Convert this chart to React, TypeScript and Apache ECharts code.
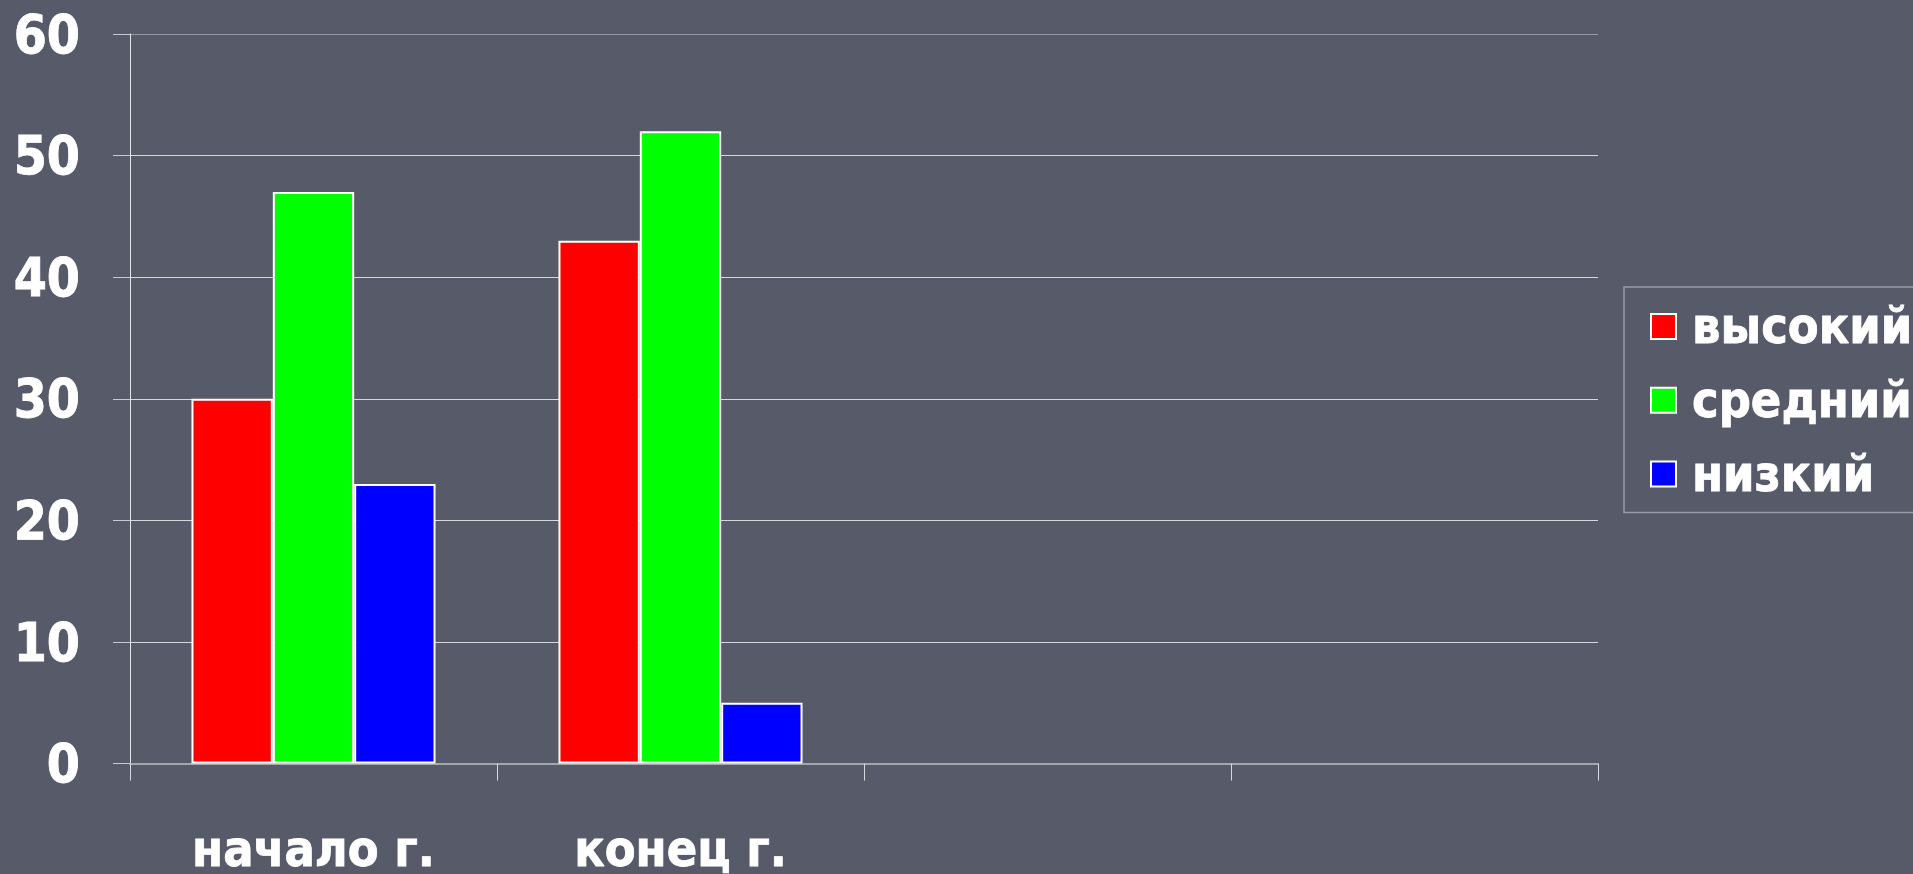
import React, { useEffect, useRef } from "react";
import * as echarts from "echarts";

const categories = ["начало г.", "конец г.", "", ""];
const seriesNames = ["высокий", "средний", "низкий"];
const highValues = [30, 43];
const midValues = [47, 52];
const lowValues = [23, 5];
const yTicks = { min: 0, max: 60, interval: 10 };
const colors = ["#ff0000", "#00ff00", "#0000ff"];

const FONT = "'DejaVu Sans Condensed', 'DejaVu Sans', sans-serif";
const BOLDER = { textBorderColor: "#ffffff", textBorderWidth: 0.8 };

export default function App() {
  const ref = useRef<HTMLDivElement>(null);
  useEffect(() => {
    if (!ref.current) return;
    const chart = echarts.init(ref.current, undefined, { renderer: "svg" });
    const data = [highValues, midValues, lowValues];
    chart.setOption({
      animation: false,
      backgroundColor: "#575a69",
      grid: { left: 130, right: 315, top: 34, bottom: 109 },
      legend: {
        orient: "vertical",
        left: 1624,
        top: 287,
        padding: [14, 30, 13, 26],
        itemGap: 23,
        itemWidth: 25,
        itemHeight: 25,
        borderColor: "#9a9ca6",
        borderWidth: 1.5,
        icon: "rect",
        textStyle: {
          color: "#ffffff",
          fontFamily: FONT,
          fontWeight: "bold",
          fontSize: 50,
          lineHeight: 50,
          padding: [0, 0, 0, 11],
          ...BOLDER,
        },
        data: seriesNames,
      },
      xAxis: {
        type: "category",
        data: categories,
        boundaryGap: true,
        axisLine: { show: true, lineStyle: { color: "#a4a6b0", width: 2 } },
        axisTick: {
          show: true,
          inside: false,
          length: 17,
          alignWithLabel: false,
          lineStyle: { color: "#d8d8de", width: 1 },
        },
        axisLabel: {
          color: "#ffffff",
          fontFamily: FONT,
          fontWeight: "bold",
          fontSize: 50,
          lineHeight: 50,
          margin: 60,
          interval: 0,
          ...BOLDER,
        },
        splitLine: { show: false },
      },
      yAxis: {
        type: "value",
        min: yTicks.min,
        max: yTicks.max,
        interval: yTicks.interval,
        axisLine: { show: true, lineStyle: { color: "#e4e4ea", width: 1 } },
        axisTick: {
          show: true,
          inside: false,
          length: 17,
          lineStyle: { color: "#c8c9d0", width: 1 },
        },
        axisLabel: {
          color: "#ffffff",
          fontFamily: FONT,
          fontWeight: "bold",
          fontSize: 53,
          margin: 50,
          ...BOLDER,
        },
        splitLine: {
          show: true,
          lineStyle: {
            color: ["#d6d7dd", "#d6d7dd", "#d6d7dd", "#d6d7dd", "#d6d7dd", "#d6d7dd", "#9597a2"],
            width: 1,
          },
        },
      },
      series: seriesNames.map((name, i) => ({
        name,
        type: "bar",
        data: data[i],
        barGap: "0%",
        barCategoryGap: "33.5%",
        itemStyle: { color: colors[i], borderColor: "#ffffff", borderWidth: 2 },
      })),
    });
    return () => chart.dispose();
  }, []);
  return (
    <div
      ref={ref}
      style={{ position: "fixed", left: 0, top: 0, width: 1913, height: 874 }}
    />
  );
}
